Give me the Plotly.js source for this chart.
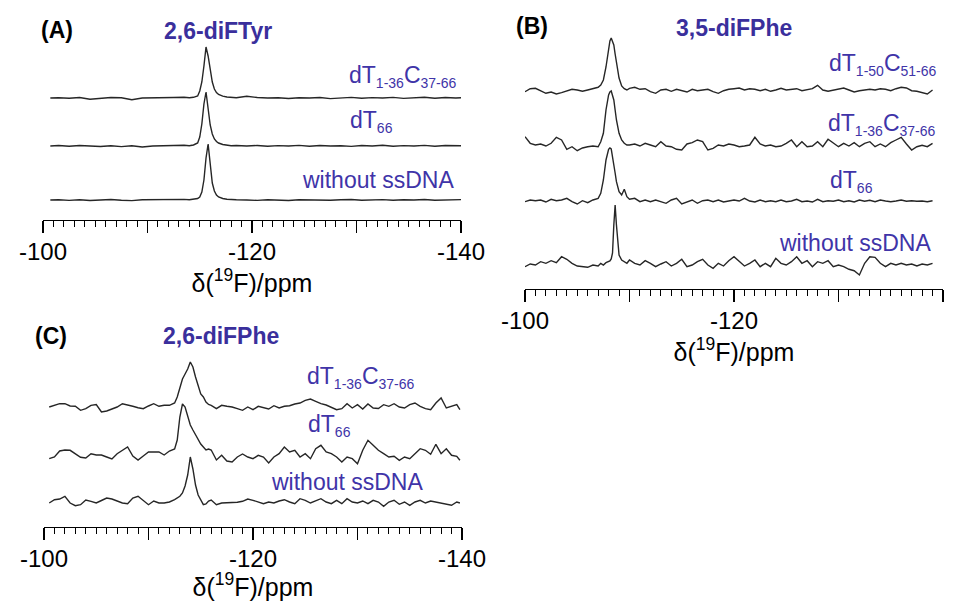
<!DOCTYPE html>
<html>
<head>
<meta charset="utf-8">
<script src="https://cdn.plot.ly/plotly-3.0.1.min.js"></script>
<style>html,body{margin:0;padding:0;background:#fff}#chart{width:962px;height:601px}</style>
</head>
<body>
<div id="chart"></div>
<script>
// ---------------- DATA ----------------
// chemical shift axis (ppm) and intensities (arbitrary units, ~px) for each spectrum
const ppmA = [-100.7,-101.5,-102.5,-103.5,-104.5,-105.5,-106.5,-107.5,-108.5,-109.5,-110.5,-111.5,-112.5,-113.5,
  -114.0,-114.4,-114.8,-115.0,-115.2,-115.4,-115.6,-115.8,-116.0,-116.2,-116.4,-116.6,-116.8,-117.2,-117.6,-118.0,
  -118.5,-119.5,-120.5,-121.5,-122.5,-123.5,-124.5,-125.5,-126.5,-127.5,-128.5,-129.5,-130.5,-131.5,-132.5,-133.5,-134.5,-135.5,-136.5,-137.5,-138.5,-139.5,-140.0];
const diFTyr_dT1_36C37_66 = [0,0.3,-0.3,0.5,-1.2,-0.5,0.5,0.2,-1.8,0,0.4,0.8,0.5,0.8,
  0.3,0.7,2,7,16,32,51,42,28,16,9,5.5,3.5,1.8,1,0.5,
  0.3,1.8,0.5,0,0.3,-0.5,0.3,0,0.5,-0.6,0.3,0.6,-0.3,0.4,0,0.6,-0.4,0.3,0.8,-0.2,0.5,0,0.2];
const diFTyr_dT66 = [0,0.5,-0.3,0.5,0,-0.5,0.3,-0.6,0.2,-1,0,0.5,0.3,0.8,
  0.3,1,3,9,22,42,54,36,21,12,7,4.5,3,1.5,0.8,0.3,
  0.5,0,0.5,-0.3,0.4,0,0.6,-0.3,0.5,0,0.3,-0.4,0.5,0,0.8,-0.2,0.4,0,0.6,-0.2,0.5,0,0.2];
const diFTyr_free = [0,0.3,-0.4,0.2,-0.5,0,0.5,-0.3,-0.6,0.2,0.4,0,0.3,0.6,
  0.2,0.5,1.5,3,8,20,42,56,35,17,9,5,3,1.5,0.8,0.3,
  0.3,0,-0.4,0.3,0,-0.5,0.3,0,0.4,-0.3,0.2,0.5,-0.3,0,0.4,-0.2,0.3,0,0.5,-0.2,0.3,0.6,0.4];

const ppmB = [-100,-100.5,-101,-101.5,-102,-102.5,-103,-103.5,-104,-104.5,-105,-105.5,-106,-106.5,
  -107,-107.25,-107.5,-107.75,-108,-108.125,-108.25,-108.375,-108.5,-108.625,-108.75,-109,-109.25,-109.5,-109.75,-110,
  -110.5,-111,-111.5,-112,-112.5,-113,-113.5,-114,-114.5,-115,-115.5,-116,-116.5,-117,-117.5,-118,-118.5,-119,-119.5,-120,
  -120.5,-121,-121.5,-122,-122.5,-123,-123.5,-124,-124.5,-125,-125.5,-126,-126.5,-127,-127.5,-128,-128.5,-129,-129.5,-130,
  -130.5,-131,-131.5,-132,-132.5,-133,-133.5,-134,-134.5,-135,-135.5,-136,-136.5,-137,-137.5,-138,-138.5,-139];
const diFPhe35_dT1_50C51_66 = [-1.7,1.3,1.7,-0.7,-3.3,-2,-4,-2.7,-0.7,0.7,0,-1.3,0,1.3,
  2.7,5,10,23,42,49,52,49,45,36,27,12,4,1.3,0,1.7,
  2.7,0.7,1.3,-1.7,-3.3,0,0.7,-1.3,0.7,-0.7,-2,0.7,-0.7,0,0.7,-1.7,-3.3,-0.7,0.7,1.3,
  2,0,1.3,0.7,-0.7,0.7,-1.3,0,1.7,0,0.7,1.3,-0.7,0,1.3,4.7,0,-1.3,0,0.7,
  2,0,-2,-0.7,0,0.7,0,1.3,0.7,-0.7,1.3,2.7,2,-0.7,-1.3,-2.7,-4,0];
const diFPhe35_dT1_36C37_66 = [8.3,1.7,0,1,-1,1.7,7.7,5,-4.3,-1.7,-5.7,-3,-1.7,-1,
  -1.7,3.3,11.7,35,50,53,54,50,45,35,25,11.7,5,1.7,0,0,
  1,-1,1.7,0,-1.7,3.3,-1,-1.7,-4.3,-5,1,2.3,5,3.3,-5,-3.3,0,-1,1,0,
  -1.7,-1,0,7.7,1,-1,0,-1.7,-1,1.7,5,-1.7,3.3,-1.7,-1,3.3,-1.7,5.7,2.3,-1.7,
  1.7,-1,2.3,-1.7,1.7,3.3,-1.7,1,-1.7,2.3,5,7.7,1,-5,-1.7,-0.3,-1.7,1.7];
const diFPhe35_dT66 = [-0.7,1,0.3,1,-1,1.7,0.3,1,2.7,-0.7,-3,0.3,-1.7,1,
  2.7,7.7,21,41,51.7,53,52,45,37.7,28,19.3,9.3,6,11.7,4.3,1.7,
  2.7,-0.7,1,-0.7,1,-0.7,-2.3,1,2.7,-3,-0.7,1,-2.3,0.3,1,-0.7,1,-1,0,1,
  0,2.7,0,-1,1,-0.7,0.3,-0.7,1,-0.7,0,1.7,-0.7,0,-1,1.7,-0.7,0.3,-0.3,1,
  -0.7,0.3,-1,1,-0.3,0.7,-0.7,1,0,-0.7,0,1,-0.3,0.3,-0.3,0,-0.7,0.3];
const diFPhe35_free = [-1.7,1,0,3.3,1.7,4.3,2.3,8.3,5.7,1.7,-1,-1.7,-2.3,0,
  -1,1.7,0,2.3,3.3,4,6,12,40,60,40,10,5,3.3,1.7,5,
  1.7,0,4.3,1.7,-1.7,1,3.3,-1,1.7,5.7,-1.7,0,3.3,5.7,0,-3.3,1.7,-1,4.3,8.3,
  3.3,-1,1.7,5,-1.7,1.7,-1.7,6.7,1.7,0,3.3,8.3,1.7,4.3,-1.7,3.3,1.7,4.3,-1.7,0,
  -1.7,-4.3,-5.7,-10,1.7,8.3,7.7,1.7,-1.7,1.7,0,1.7,0,1,-1,1,0,1.7];

const ppmC = [-100.5,-101,-101.5,-102,-102.5,-103,-103.5,-104,-104.5,-105,-105.5,-106,-106.5,-107,-107.5,-108,-108.5,-109,-109.5,-110,-110.5,-111,-111.5,-112,-112.5,
  -112.75,-113,-113.25,-113.5,-113.75,-114,-114.25,-114.5,-114.75,-115,-115.25,-115.5,-115.75,-116,
  -116.5,-117,-117.5,-118,-118.5,-119,-119.5,-120,-120.5,-121,-121.5,-122,-122.5,-123,-123.5,-124,-124.5,-125,-125.5,-126,
  -126.5,-127,-127.5,-128,-128.5,-129,-129.5,-130,-130.5,-131,-131.5,-132,-132.5,-133,-133.5,-134,-134.5,-135,-135.5,-136,
  -136.5,-137,-137.5,-138,-138.5,-139,-139.5,-139.8];
const diFPhe26_dT1_36C37_66 = [0,1.7,3.3,3.3,1,0.7,-3.3,-1.7,1.7,2.5,-5,-4,-1.7,0,3.3,1.7,0.7,-0.7,-1.7,1,3.3,0.7,1.7,1.7,4,
  10,20,28,33,38,45,40,30,22,13,10,5,2.5,1.7,
  -1.7,1.7,0.7,0,-1.7,-3.3,0,-2.7,0.7,-1,-2,1.3,-1,0.7,1.3,3,4,6.7,8,5.7,
  3.3,2,0,-2.7,-1.7,3.3,-1,2.3,-2,3,-1,-1.5,2.3,0.7,3.3,0,-1,2.3,4,0.7,
  -1.7,-2.7,4,9,-1,0.7,2.3,-2.7];
const diFPhe26_dT66 = [-1.7,0,6,7,6.7,3,-0.3,-1,3.3,2,2,0,-2,3.3,6.7,10,1,-3,1,5,5,5,2,6,8,
  17,40,53,50,40,32,27,22,17,13,10,7,8,7,
  -3,1.7,-4,-5,0,3,0,-1.7,1.7,0,-6,0,3.3,10,5,6.7,0,3.3,-1.7,8.3,
  11.7,5,3.3,0,-5,0,-1.7,-6.7,6.7,16.7,11.7,6.7,3.3,0,0.7,-3.3,0,-1.7,3.3,8.3,
  6.7,2.7,12.7,3.3,8.3,1.7,0.7,-3.3];
const diFPhe26_free = [0,3.3,4,6.7,0,-2.7,-1.7,3,1.7,0,2.5,5,4,1.7,0,-0.7,5,6.7,2,-1.7,2,0,0,1,3.3,
  4.7,6.7,10,17,28,46,34,18,8,3.3,-1.7,-1,2,3,
  -1.7,0,0,0,0.7,1.7,4,2.7,1,-0.7,1,0,2,3.3,1,-0.7,4.3,2.7,0,2,
  4.3,1,-0.7,2.7,-0.7,4.3,1,0,2,-0.7,2.7,1,-3.3,1,2.7,-1.3,1,-2.3,1,2.7,
  0,2,1,-0.7,-1.3,-2.3,1,0];

const tickValues = [-100,-110,-120,-130,-140];
const tickLabels = ["-100","","-120","","-140"];
const axisTitle = "δ(<sup>19</sup>F)/ppm";
const panelLetters = ["(A)","(B)","(C)"];
const panelTitles = ["2,6-diFTyr","3,5-diFPhe","2,6-diFPhe"];
const labelsA = [["dT","1-36","C","37-66"],["dT","66"],["without ssDNA"]];
const labelsB = [["dT","1-50","C","51-66"],["dT","1-36","C","37-66"],["dT","66"],["without ssDNA"]];
const labelsC = [["dT","1-36","C","37-66"],["dT","66"],["without ssDNA"]];

// ---------------- PRESENTATION ----------------
const W = 962, H = 601;
const FONT = "Liberation Sans, Arial, Helvetica, sans-serif";
const LINE = "#262626";
const TITLE_COLOR = "#3a2f9c";
const LABEL_COLOR = "#4034a8";
const SUB_SIZE = 14;

// label parts: even index = normal text, odd index = subscript
function labelHTML(parts) {
  return parts.map((p, i) => i % 2 ? "<sub><span style=\"font-size:" + SUB_SIZE + "px\">" + p + "</span></sub>" : p).join("");
}

// vertical stacking offsets of each spectrum (px above axis line)
function stacked(x, y, off, xa, ya) {
  return { x: x, y: y.map(v => v + off), xaxis: xa, yaxis: ya, type: "scatter", mode: "lines",
           line: { color: LINE, width: 1.4 }, hoverinfo: "skip" };
}
const traces = [
  stacked(ppmA, diFTyr_dT1_36C37_66, 122, "x", "y"),
  stacked(ppmA, diFTyr_dT66, 74, "x", "y"),
  stacked(ppmA, diFTyr_free, 20, "x", "y"),
  stacked(ppmB, diFPhe35_dT1_50C51_66, 199, "x2", "y2"),
  stacked(ppmB, diFPhe35_dT1_36C37_66, 144, "x2", "y2"),
  stacked(ppmB, diFPhe35_dT66, 88, "x2", "y2"),
  stacked(ppmB, diFPhe35_free, 24, "x2", "y2"),
  stacked(ppmC, diFPhe26_dT1_36C37_66, 120, "x3", "y3"),
  stacked(ppmC, diFPhe26_dT66, 70, "x3", "y3"),
  stacked(ppmC, diFPhe26_free, 24, "x3", "y3"),
];

function xAxis(x0, x1, anchor, standoff) {
  return {
    domain: [x0 / W, x1 / W], anchor: anchor, range: [-100, -140],
    showline: true, linecolor: "#000", linewidth: 1.4, mirror: false,
    showgrid: false, zeroline: false,
    ticks: "outside", ticklen: 12, tickwidth: 1.3, tickcolor: "#000",
    tickmode: "array", tickvals: tickValues, ticktext: tickLabels,
    ticklabelstandoff: -2,
    tickfont: { family: FONT, size: 24, color: "#000" },
    minor: { tickmode: "linear", tick0: -100, dtick: 1, ticks: "outside", ticklen: 6, tickwidth: 1, tickcolor: "#000", showgrid: false },
    title: { text: axisTitle, font: { family: FONT, size: 25, color: "#000" }, standoff: standoff },
    fixedrange: true
  };
}
function yAxis(bottomPx, topPx, anchor) {
  return { domain: [1 - bottomPx / H, 1 - topPx / H], range: [0, bottomPx - topPx], anchor: anchor,
           visible: false, showgrid: false, zeroline: false, fixedrange: true };
}

function ann(text, xpx, ypx, xanchor, yanchor, size, color, bold) {
  return { text: bold ? "<b>" + text + "</b>" : text, x: xpx / W, y: 1 - ypx / H, xref: "paper", yref: "paper",
           xanchor: xanchor, yanchor: yanchor, showarrow: false,
           font: { family: FONT, size: size, color: color } };
}
const annotations = [
  ann(panelLetters[0], 57, 30, "center", "middle", 23, "#000", true),
  ann(panelTitles[0], 218, 31, "center", "middle", 23, TITLE_COLOR, true),
  ann(labelHTML(labelsA[0]), 459, 76, "right", "middle", 23, LABEL_COLOR, false),
  ann(labelHTML(labelsA[1]), 395, 121, "right", "middle", 23, LABEL_COLOR, false),
  ann(labelHTML(labelsA[2]), 456, 180, "right", "middle", 23, LABEL_COLOR, false),

  ann(panelLetters[1], 532, 26, "center", "middle", 23, "#000", true),
  ann(panelTitles[1], 734, 28, "center", "middle", 23, TITLE_COLOR, true),
  ann(labelHTML(labelsB[0]), 939, 64, "right", "middle", 23, LABEL_COLOR, false),
  ann(labelHTML(labelsB[1]), 938, 124, "right", "middle", 23, LABEL_COLOR, false),
  ann(labelHTML(labelsB[2]), 875, 182, "right", "middle", 23, LABEL_COLOR, false),
  ann(labelHTML(labelsB[3]), 933, 243, "right", "middle", 23, LABEL_COLOR, false),

  ann(panelLetters[2], 51, 336, "center", "middle", 23, "#000", true),
  ann(panelTitles[2], 221, 336, "center", "middle", 23, TITLE_COLOR, true),
  ann(labelHTML(labelsC[0]), 417, 377, "right", "middle", 23, LABEL_COLOR, false),
  ann(labelHTML(labelsC[1]), 353, 425, "right", "middle", 23, LABEL_COLOR, false),
  ann(labelHTML(labelsC[2]), 425, 482, "right", "middle", 23, LABEL_COLOR, false),
];

const layout = {
  width: W, height: H, margin: { l: 0, r: 0, t: 0, b: 0 },
  paper_bgcolor: "#fff", plot_bgcolor: "rgba(0,0,0,0)", showlegend: false,
  font: { family: FONT },
  xaxis: xAxis(43, 461, "y", 8),
  yaxis: yAxis(220, 28, "x"),
  xaxis2: xAxis(525, 943, "y2", 5),
  yaxis2: yAxis(289, 20, "x2"),
  xaxis3: xAxis(44, 462, "y3", 10),
  yaxis3: yAxis(527, 340, "x3"),
  annotations: annotations
};
Plotly.newPlot("chart", traces, layout, { staticPlot: true, displayModeBar: false });
</script>
</body>
</html>
